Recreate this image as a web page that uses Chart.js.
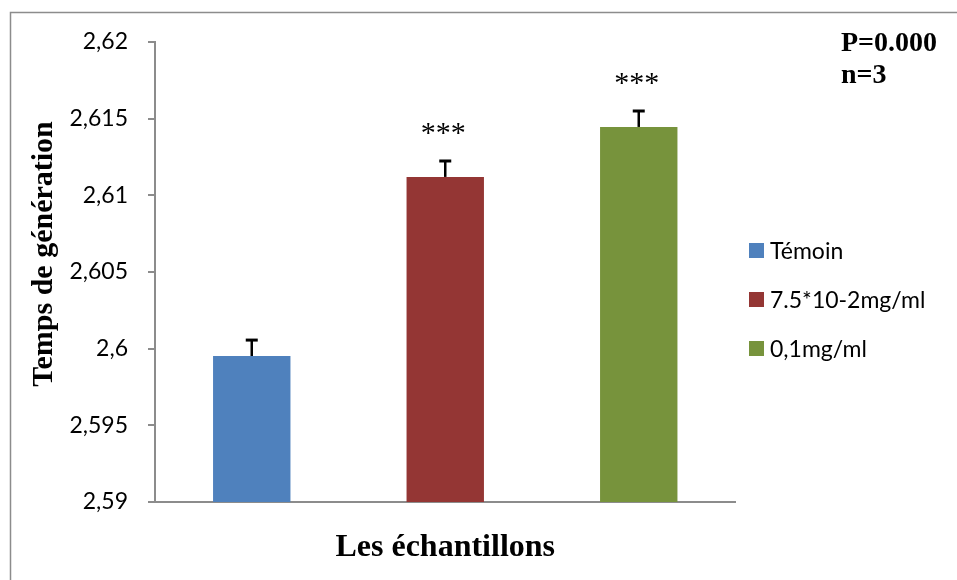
<!DOCTYPE html>
<html>
<head>
<meta charset="utf-8">
<script src="https://cdn.jsdelivr.net/npm/chart.js@4.4.1/dist/chart.umd.min.js"></script>
<style>
  html, body { margin: 0; padding: 0; background: #ffffff; }
  #wrap { width: 957px; height: 580px; position: relative; }
</style>
</head>
<body>
<div id="wrap"><canvas id="c" width="957" height="580"></canvas></div>
<script>
// ---- data ----
const categories = ['Témoin', '7.5*10-2mg/ml', '0,1mg/ml'];
const means = [2.59952, 2.61120, 2.61446];
const errors = [0.00104, 0.00104, 0.00104];
const stars = ['', '***', '***'];
const colors = ['#4F81BD', '#943634', '#77933C'];
const yTicks = [2.59, 2.595, 2.6, 2.605, 2.61, 2.615, 2.62];
const yTickLabels = ['2,59', '2,595', '2,6', '2,605', '2,61', '2,615', '2,62'];
const yTitle = 'Temps de génération';
const xTitle = 'Les échantillons';
const notes = ['P=0.000', 'n=3'];

const AXIS = '#8C8C8C';
const SERIF = '"Liberation Serif", "Times New Roman", serif';
const SANS = 'Lato, "Open Sans", sans-serif';

const decor = {
  id: 'decor',
  beforeDraw(chart) {
    const ctx = chart.ctx;
    ctx.save();
    ctx.fillStyle = '#ffffff';
    ctx.fillRect(0, 0, chart.width, chart.height);
    ctx.strokeStyle = AXIS;
    ctx.lineWidth = 1.5;
    ctx.strokeRect(10.5, 12.5, chart.width + 20, chart.height + 20);
    ctx.restore();
  },
  afterDatasetsDraw(chart) {
    const ctx = chart.ctx;
    const y = chart.scales.y;
    const meta = chart.getDatasetMeta(0);
    ctx.save();
    meta.data.forEach((bar, i) => {
      const top = y.getPixelForValue(means[i] + errors[i]);
      const base = y.getPixelForValue(means[i]);
      ctx.strokeStyle = '#000000';
      ctx.lineWidth = 2.5;
      ctx.beginPath();
      ctx.moveTo(bar.x, base);
      ctx.lineTo(bar.x, top);
      ctx.stroke();
      ctx.lineWidth = 3;
      ctx.beginPath();
      ctx.moveTo(bar.x - 6, top);
      ctx.lineTo(bar.x + 6, top);
      ctx.stroke();
      if (stars[i]) {
        ctx.fillStyle = '#000000';
        ctx.font = '30px ' + SERIF;
        ctx.textAlign = 'center';
        ctx.textBaseline = 'middle';
        ctx.fillText(stars[i], bar.x - 2, top - 27);
      }
    });
    ctx.restore();
  },
  afterDraw(chart) {
    const ctx = chart.ctx;
    const area = chart.chartArea;
    ctx.save();
    ctx.fillStyle = '#000000';
    // y title
    ctx.font = 'bold 30px ' + SERIF;
    ctx.textAlign = 'center';
    ctx.textBaseline = 'alphabetic';
    ctx.translate(52, 254);
    ctx.rotate(-Math.PI / 2);
    ctx.fillText(yTitle, 0, 0);
    ctx.setTransform(1, 0, 0, 1, 0, 0);
    // x title
    ctx.font = 'bold 32px ' + SERIF;
    ctx.textAlign = 'center';
    ctx.fillText(xTitle, (area.left + area.right) / 2, 556);
    // notes
    ctx.font = 'bold 28px ' + SERIF;
    ctx.textAlign = 'left';
    ctx.fillText(notes[0], 841, 51);
    ctx.fillText(notes[1], 841, 83);
    // legend
    ctx.font = '23px ' + SANS;
    categories.forEach((lab, i) => {
      const by = 259 + i * 49;
      ctx.fillStyle = colors[i];
      ctx.fillRect(749, by - 16, 15, 15);
      ctx.fillStyle = '#000000';
      ctx.fillText(lab, 770, by);
    });
    ctx.restore();
  }
};

new Chart(document.getElementById('c'), {
  type: 'bar',
  data: {
    labels: categories,
    datasets: [{
      data: means,
      backgroundColor: colors,
      borderWidth: 0,
      barPercentage: 0.4,
      categoryPercentage: 1.0
    }]
  },
  options: {
    responsive: false,
    animation: false,
    layout: { padding: { top: 42, right: 221.5, left: 0, bottom: 0 } },
    plugins: { legend: { display: false }, tooltip: { enabled: false } },
    scales: {
      x: {
        type: 'category',
        ticks: { display: false },
        grid: { display: false },
        border: { display: true, color: AXIS, width: 2 },
        afterFit(s) { s.height = 78; }
      },
      y: {
        type: 'linear',
        min: 2.59,
        max: 2.62,
        ticks: {
          stepSize: 0.005,
          padding: 20,
          color: '#000000',
          font: { family: SANS, size: 23 },
          callback(v) {
            const k = yTicks.findIndex(t => Math.abs(t - v) < 1e-9);
            return k >= 0 ? yTickLabels[k] : '';
          }
        },
        grid: { display: true, drawOnChartArea: false, drawTicks: true, tickLength: 7, color: AXIS, lineWidth: 2 },
        border: { display: true, color: AXIS, width: 2 },
        afterFit(s) { s.width = 155; }
      }
    }
  },
  plugins: [decor]
});
</script>
</body>
</html>
